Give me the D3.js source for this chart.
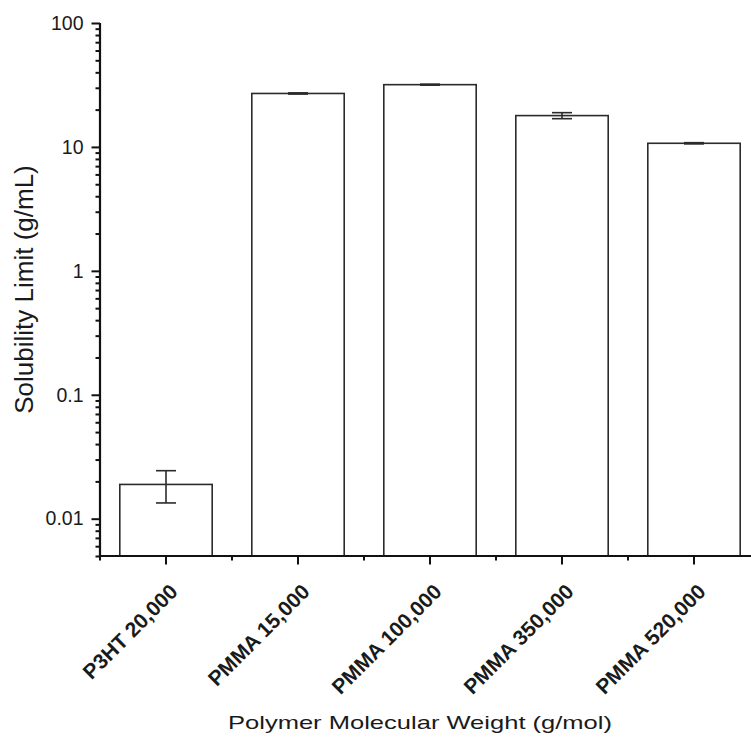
<!DOCTYPE html>
<html>
<head>
<meta charset="utf-8">
<script src="https://cdn.jsdelivr.net/npm/d3@7"></script>
<style>
  html, body { margin: 0; padding: 0; background: #fff; }
  svg { display: block; }
  text { font-family: Arial, "Liberation Sans", sans-serif; fill: #1a1a1a; }
</style>
</head>
<body>
<svg id="chart" width="751" height="738"></svg>
<script>
// Polymer samples and their measured solubility limits
const categories = ["P3HT 20,000", "PMMA 15,000", "PMMA 100,000", "PMMA 350,000", "PMMA 520,000"];
const solubility = [0.0189, 27.0, 31.8, 17.9, 10.7];
const solubilityErr = [0.0055, 0.3, 0.3, 1.0, 0.12];

// Log axis decades and their labels
const majorTicks = [0.01, 0.1, 1, 10, 100];
const majorTickLabels = ["0.01", "0.1", "1", "10", "100"];
const yDomain = [0.005, 100];

const yTitle = "Solubility Limit (g/mL)";
const xTitle = "Polymer Molecular Weight (g/mol)";

const svg = d3.select("#chart");
const plot = { left: 100, right: 760, top: 23, bottom: 556 };

const x = d3.scaleBand()
  .domain(categories)
  .range([plot.left, plot.right])
  .paddingInner(0.3)
  .paddingOuter(0.15);

const y = d3.scaleLog()
  .domain(yDomain)
  .range([plot.bottom, plot.top]);

const data = categories.map((c, i) => ({ name: c, value: solubility[i], err: solubilityErr[i] }));

// Bars: white fill with dark outline
svg.append("g")
  .selectAll("rect")
  .data(data)
  .join("rect")
  .attr("x", d => x(d.name))
  .attr("y", d => y(d.value))
  .attr("width", x.bandwidth())
  .attr("height", d => plot.bottom - y(d.value))
  .attr("fill", "#fff")
  .attr("stroke", "#2b2b2b")
  .attr("stroke-width", 1.6);

// Error bars with caps
const capHalf = 10;
const eb = svg.append("g")
  .attr("stroke", "#2b2b2b")
  .attr("stroke-width", 1.6)
  .attr("fill", "none");
data.forEach(d => {
  const cx = x(d.name) + x.bandwidth() / 2;
  const yHi = y(d.value + d.err);
  const yLo = y(d.value - d.err);
  eb.append("line").attr("x1", cx).attr("x2", cx).attr("y1", yHi).attr("y2", yLo);
  eb.append("line").attr("x1", cx - capHalf).attr("x2", cx + capHalf).attr("y1", yHi).attr("y2", yHi);
  eb.append("line").attr("x1", cx - capHalf).attr("x2", cx + capHalf).attr("y1", yLo).attr("y2", yLo);
});

// Y axis: minor ticks at 2..9 of each decade, major ticks at decades
const minorTicks = y.ticks().filter(v => !majorTicks.some(m => Math.abs(m - v) / m < 1e-9));
const yMinor = svg.append("g")
  .attr("transform", `translate(${plot.left},0)`)
  .call(d3.axisLeft(y).tickValues(minorTicks).tickSize(4.5).tickFormat(""));
const yMajor = svg.append("g")
  .attr("transform", `translate(${plot.left},0)`)
  .call(d3.axisLeft(y).tickValues(majorTicks).tickSize(8.5).tickPadding(8)
    .tickFormat((d, i) => majorTickLabels[i]));
[yMinor, yMajor].forEach(g => {
  g.select(".domain").remove();
  g.selectAll(".tick line").attr("stroke", "#111").attr("stroke-width", 2);
});
yMajor.selectAll(".tick text")
  .attr("font-size", 19.5)
  .attr("fill", "#222")
  .style("font-family", "Arial, 'Liberation Sans', sans-serif");

// X axis: major ticks at category centres, minor ticks at category boundaries
const step = x.step();
const boundaries = categories.map(c => x(c) + x.bandwidth() / 2 - step / 2);
svg.append("g")
  .attr("stroke", "#111")
  .attr("stroke-width", 2)
  .selectAll("line")
  .data(boundaries)
  .join("line")
  .attr("x1", d => d).attr("x2", d => d)
  .attr("y1", plot.bottom).attr("y2", plot.bottom + 4.5);

const xAxis = svg.append("g")
  .attr("transform", `translate(0,${plot.bottom})`)
  .call(d3.axisBottom(x).tickSize(8.5).tickFormat(""));
xAxis.select(".domain").remove();
xAxis.selectAll(".tick line").attr("stroke", "#111").attr("stroke-width", 2);

// Rotated category labels
svg.append("g")
  .selectAll("text")
  .data(categories)
  .join("text")
  .attr("transform", d => `translate(${x(d) + x.bandwidth() / 2 + 13},${plot.bottom + 37}) rotate(-45)`)
  .attr("text-anchor", "end")
  .attr("font-size", 21)
  .attr("font-weight", "bold")
  .text(d => d);

// Axis lines
svg.append("line")
  .attr("x1", plot.left).attr("x2", plot.left)
  .attr("y1", plot.top).attr("y2", plot.bottom + 1)
  .attr("stroke", "#111").attr("stroke-width", 2.2);
svg.append("line")
  .attr("x1", plot.left - 1).attr("x2", plot.right)
  .attr("y1", plot.bottom).attr("y2", plot.bottom)
  .attr("stroke", "#111").attr("stroke-width", 2.2);

// Axis titles
svg.append("text")
  .attr("transform", `translate(32.5,${(plot.top + plot.bottom) / 2}) rotate(-90)`)
  .attr("text-anchor", "middle")
  .attr("font-size", 26)
  .text(yTitle);

svg.append("text")
  .attr("x", 420)
  .attr("y", 729)
  .attr("text-anchor", "middle")
  .attr("font-size", 19)
  .attr("textLength", 384)
  .attr("lengthAdjust", "spacingAndGlyphs")
  .text(xTitle);
</script>
</body>
</html>
